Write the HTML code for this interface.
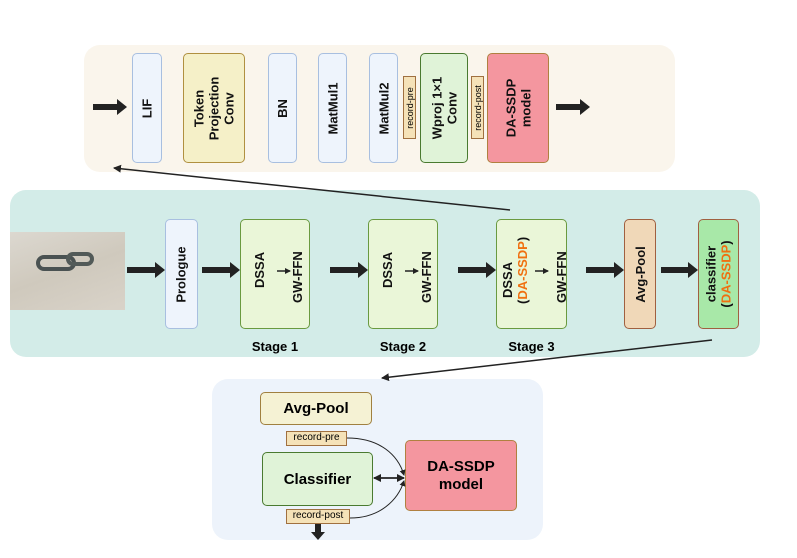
<!DOCTYPE html>
<html><head><meta charset="utf-8"><style>
body{margin:0;width:797px;height:558px;background:#fff;position:relative;font-family:"Liberation Sans",sans-serif;overflow:hidden}
.a{position:absolute;box-sizing:border-box}
.v{display:flex;align-items:center;justify-content:center;border-radius:5px;border:1.5px solid}
.v span{transform:rotate(-90deg);white-space:nowrap;text-align:center;font-weight:bold;font-size:13px;line-height:15px;color:#111}
.blue{background:#eef4fc;border-color:#a8bfe0}
.rec{background:#f5e2b8;border:1.5px solid #a07040;display:flex;align-items:center;justify-content:center}
.rec span{transform:rotate(-90deg);font-size:9px;white-space:nowrap}
.o{color:#f07010}
</style></head><body>
<div class="a" style="left:84px;top:45px;width:591px;height:127px;background:#faf5ec;border-radius:16px"></div>
<div class="a" style="left:10px;top:190px;width:750px;height:167px;background:#d3ece8;border-radius:16px"></div>
<div class="a" style="left:212px;top:379px;width:331px;height:161px;background:#edf3fb;border-radius:16px"></div>

<div class="a v blue" style="left:132px;top:53px;width:30px;height:110px"><span>LIF</span></div>
<div class="a v" style="left:183px;top:53px;width:62px;height:110px;background:#f5f0c8;border-color:#b09040"><span>Token<br>Projection<br>Conv</span></div>
<div class="a v blue" style="left:268px;top:53px;width:29px;height:110px"><span>BN</span></div>
<div class="a v blue" style="left:318px;top:53px;width:29px;height:110px"><span>MatMul1</span></div>
<div class="a v blue" style="left:369px;top:53px;width:29px;height:110px"><span>MatMul2</span></div>
<div class="a rec" style="left:403px;top:76px;width:13px;height:63px"><span>record-pre</span></div>
<div class="a v" style="left:420px;top:53px;width:48px;height:110px;background:#e0f3d8;border-color:#4a7a30"><span>Wproj 1×1<br>Conv</span></div>
<div class="a rec" style="left:471px;top:76px;width:13px;height:63px"><span>record-post</span></div>
<div class="a v" style="left:487px;top:53px;width:62px;height:110px;background:#f4969f;border-color:#b08040"><span>DA-SSDP<br>model</span></div>

<div class="a" style="left:10px;top:232px;width:115px;height:78px;background:linear-gradient(160deg,#dcd8d0,#cfc9bd 50%,#d9d3c9)"></div>
<div class="a" style="left:36px;top:255px;width:40px;height:16px;border-radius:9px;border:4px solid #4a5252"></div>
<div class="a" style="left:66px;top:252px;width:28px;height:14px;border-radius:8px;border:4px solid #525a58"></div>
<div class="a v blue" style="left:165px;top:219px;width:33px;height:110px"><span>Prologue</span></div>
<div class="a v" style="left:240px;top:219px;width:70px;height:110px;background:#eaf6d8;border-color:#6a9a40"></div>
<div class="a v" style="left:368px;top:219px;width:70px;height:110px;background:#eaf6d8;border-color:#6a9a40"></div>
<div class="a v" style="left:496px;top:219px;width:71px;height:110px;background:#eaf6d8;border-color:#6a9a40"></div>
<div class="a v" style="left:624px;top:219px;width:32px;height:110px;background:#f0d8b8;border-color:#a06040"><span>Avg-Pool</span></div>
<div class="a v" style="left:698px;top:219px;width:41px;height:110px;background:#a8e8a8;border-color:#a06040"><span>classifier<br>(<b class="o">DA-SSDP</b>)</span></div>
<div class="a" style="left:240px;top:339px;width:70px;text-align:center;font-weight:bold;font-size:13px">Stage 1</div>
<div class="a" style="left:368px;top:339px;width:70px;text-align:center;font-weight:bold;font-size:13px">Stage 2</div>
<div class="a" style="left:496px;top:339px;width:71px;text-align:center;font-weight:bold;font-size:13px">Stage 3</div>

<div class="a v" style="left:260px;top:392px;width:112px;height:33px;background:#f5f2d4;border-color:#a08040;font-weight:bold;font-size:15px">Avg-Pool</div>
<div class="a" style="left:286px;top:431px;width:61px;height:15px;background:#f5e2b8;border:1.5px solid #a07040;font-size:10px;text-align:center;line-height:12px">record-pre</div>
<div class="a v" style="left:262px;top:452px;width:111px;height:54px;background:#e0f3d8;border-color:#4a7a30;font-weight:bold;font-size:15px">Classifier</div>
<div class="a" style="left:286px;top:509px;width:64px;height:15px;background:#f5e2b8;border:1.5px solid #a07040;font-size:10px;text-align:center;line-height:12px">record-post</div>
<div class="a v" style="left:405px;top:440px;width:112px;height:71px;background:#f4969f;border-color:#b08040;font-weight:bold;font-size:15px;text-align:center;line-height:18px">DA-SSDP<br>model</div>

<svg class="a" style="left:0;top:0" width="797" height="558">
<defs>
<marker id="m" markerWidth="8" markerHeight="8" refX="7" refY="4" orient="auto" markerUnits="userSpaceOnUse"><path d="M0,0L8,4L0,8z" fill="#222"/></marker>
<marker id="s" markerWidth="6" markerHeight="6" refX="5" refY="3" orient="auto" markerUnits="userSpaceOnUse"><path d="M0,0L6,3L0,6z" fill="#222"/></marker>
<marker id="d" markerWidth="8" markerHeight="8" refX="7" refY="4" orient="auto-start-reverse" markerUnits="userSpaceOnUse"><path d="M0,0L8,4L0,8z" fill="#222"/></marker>
</defs>
<g fill="#222">
<path d="M93,104h24v-5l10,8l-10,8v-5h-24z"/>
<path d="M556,104h24v-5l10,8l-10,8v-5h-24z"/>
<path d="M127,267h28v-5l10,8l-10,8v-5h-28z"/>
<path d="M202,267h28v-5l10,8l-10,8v-5h-28z"/>
<path d="M330,267h28v-5l10,8l-10,8v-5h-28z"/>
<path d="M458,267h28v-5l10,8l-10,8v-5h-28z"/>
<path d="M586,267h28v-5l10,8l-10,8v-5h-28z"/>
<path d="M661,267h27v-5l10,8l-10,8v-5h-27z"/>
<path d="M315,524h6v8h4l-7,8l-7,-8h4z"/>
</g>
<g stroke="#222" fill="none">
<line x1="510" y1="210" x2="114" y2="168" stroke-width="1.5" marker-end="url(#m)"/>
<line x1="712" y1="340" x2="382" y2="378" stroke-width="1.5" marker-end="url(#m)"/>
<line x1="277" y1="271" x2="290" y2="271" stroke-width="1.5" marker-end="url(#s)"/>
<line x1="405" y1="271" x2="418" y2="271" stroke-width="1.5" marker-end="url(#s)"/>
<line x1="535" y1="271" x2="548" y2="271" stroke-width="1.5" marker-end="url(#s)"/>
<path d="M347,438 C380,438 398,455 404,475" stroke-width="1" marker-end="url(#s)"/>
<path d="M350,518 C380,518 398,500 404,481" stroke-width="1" marker-end="url(#s)"/>
<line x1="374" y1="478" x2="404" y2="478" stroke-width="1.8" marker-start="url(#d)" marker-end="url(#d)"/>
</g>
<g font-family="Liberation Sans" font-weight="bold" font-size="13" fill="#111">
<text transform="translate(264,288) rotate(-90)">DSSA</text>
<text transform="translate(302,303) rotate(-90)">GW-FFN</text>
<text transform="translate(392,288) rotate(-90)">DSSA</text>
<text transform="translate(431,303) rotate(-90)">GW-FFN</text>
<text transform="translate(512,298) rotate(-90)">DSSA</text>
<text transform="translate(527,304) rotate(-90)">(<tspan fill="#f07010">DA-SSDP</tspan>)</text>
<text transform="translate(566,303) rotate(-90)">GW-FFN</text>
</g>
</svg>
</body></html>
